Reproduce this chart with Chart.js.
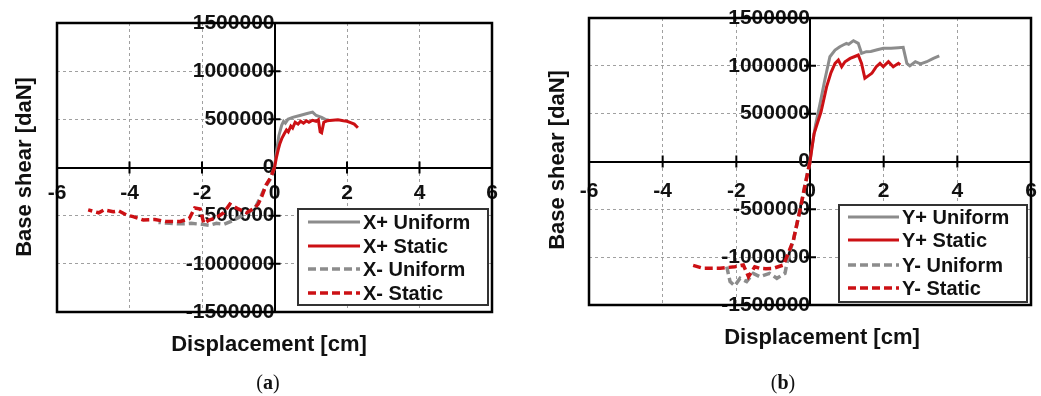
<!DOCTYPE html>
<html>
<head>
<meta charset="utf-8">
<script src="https://cdn.jsdelivr.net/npm/chart.js@4.4.1/dist/chart.umd.min.js"></script>
<style>
  html, body { margin: 0; padding: 0; background: #fff; }
  #wrap { position: relative; width: 1041px; height: 396px; }
  .pane { position: absolute; top: 0; height: 396px; }
  #paneA { left: 0; width: 520px; }
  #paneB { left: 520px; width: 521px; }
  .cap { position: absolute; top: 371px; font: 20px "Liberation Serif", "Times New Roman", serif; color: #111; transform: translateX(-50%); }
</style>
</head>
<body>
<div id="wrap">
  <div class="pane" id="paneA"><canvas id="chartA"></canvas></div>
  <div class="pane" id="paneB"><canvas id="chartB"></canvas></div>
  <div class="cap" style="left:268px">(<b>a</b>)</div>
  <div class="cap" style="left:783px">(<b>b</b>)</div>
</div>
<script>
// tick values
const dispTicks = [-6, -4, -2, 0, 2, 4, 6]
const shearTicks = [-1500000, -1000000, -500000, 0, 500000, 1000000, 1500000]

// (a) X direction
const xPlusUniformDisp = [0, 0.05, 0.12, 0.2, 0.25, 0.3, 0.37, 0.5, 0.7, 0.9, 1.05, 1.15, 1.3, 1.4, 1.5]
const xPlusUniformShear = [0, 150000, 330000, 440000, 480000, 460000, 500000, 520000, 540000, 560000, 575000, 540000, 520000, 500000, 490000]

const xPlusStaticDisp = [0, 0.05, 0.1, 0.15, 0.2, 0.27, 0.33, 0.38, 0.45, 0.5, 0.57, 0.65, 0.72, 0.8, 0.88, 0.95, 1.05, 1.15, 1.21, 1.26, 1.3, 1.36, 1.45, 1.6, 1.75, 1.9, 2.0, 2.1, 2.2, 2.3]
const xPlusStaticShear = [0, 100000, 180000, 250000, 300000, 350000, 390000, 370000, 430000, 410000, 470000, 450000, 480000, 460000, 485000, 470000, 490000, 480000, 495000, 370000, 360000, 470000, 485000, 490000, 495000, 485000, 480000, 465000, 450000, 413000]

const xMinusUniformDisp = [0, -0.1, -0.25, -0.4, -0.55, -0.8, -1.0, -1.2, -1.4, -1.6, -1.8, -2.0, -2.3, -2.6, -2.9, -3.2]
const xMinusUniformShear = [0, -110000, -200000, -320000, -430000, -480000, -520000, -560000, -590000, -580000, -600000, -590000, -580000, -585000, -580000, -570000]

const xMinusStaticDisp = [0, -0.1, -0.23, -0.34, -0.45, -0.55, -0.77, -1.0, -1.23, -1.4, -1.6, -1.8, -1.95, -2.05, -2.2, -2.35, -2.6, -3.0, -3.3, -3.62, -3.9, -4.08, -4.3, -4.45, -4.7, -4.85, -5.14]
const xMinusStaticShear = [0, -100000, -180000, -290000, -380000, -420000, -470000, -430000, -380000, -470000, -520000, -545000, -580000, -430000, -420000, -530000, -560000, -560000, -540000, -545000, -510000, -493000, -450000, -460000, -440000, -470000, -440000]

// (b) Y direction
const yPlusUniformDisp = [0, 0.05, 0.15, 0.27, 0.4, 0.54, 0.68, 0.81, 0.9, 0.99, 1.05, 1.18, 1.31, 1.4, 1.53, 1.65, 1.8, 1.99, 2.2, 2.4, 2.53, 2.63, 2.71, 2.86, 3.0, 3.17, 3.35, 3.51]
const yPlusUniformShear = [0, 150000, 380000, 600000, 850000, 1095000, 1165000, 1200000, 1218000, 1235000, 1225000, 1263000, 1235000, 1131000, 1148000, 1150000, 1165000, 1183000, 1185000, 1190000, 1193000, 1026000, 1000000, 1043000, 1020000, 1043000, 1078000, 1103000]

const yPlusStaticDisp = [0, 0.05, 0.11, 0.2, 0.3, 0.45, 0.57, 0.68, 0.77, 0.86, 0.95, 1.09, 1.2, 1.31, 1.4, 1.49, 1.6, 1.68, 1.8, 1.9, 1.99, 2.13, 2.26, 2.4, 2.45]
const yPlusStaticShear = [0, 130000, 290000, 400000, 520000, 780000, 930000, 1026000, 1061000, 991000, 1043000, 1078000, 1095000, 1113000, 1026000, 870000, 900000, 922000, 991000, 1026000, 991000, 1043000, 991000, 1026000, 1010000]

const yMinusUniformDisp = [0, -0.14, -0.27, -0.45, -0.59, -0.68, -0.9, -1.1, -1.36, -1.54, -1.72, -1.9, -2.04, -2.17, -2.26]
const yMinusUniformShear = [0, -250000, -500000, -820000, -995000, -1169000, -1221000, -1169000, -1204000, -1169000, -1256000, -1221000, -1300000, -1256000, -1100000]

const yMinusStaticDisp = [0, -0.14, -0.27, -0.45, -0.59, -0.72, -0.99, -1.2, -1.36, -1.5, -1.67, -1.81, -2.04, -2.44, -2.9, -3.21]
const yMinusStaticShear = [0, -263000, -507000, -820000, -960000, -1082000, -1116000, -1120000, -1116000, -1100000, -1204000, -1082000, -1100000, -1116000, -1116000, -1082000]

const RED = '#cc1014'
const GRAY = '#8c8c8c'
const FONT = '"Liberation Sans", Arial, sans-serif'

const pts = (xs, ys) => xs.map((v, i) => ({ x: v, y: ys[i] }))

function series(label, xs, ys, color, dashed) {
  return {
    label: label,
    data: pts(xs, ys),
    borderColor: color,
    borderWidth: dashed ? 3.5 : 3,
    borderDash: dashed ? [8, 4] : [],
    showLine: true,
    pointRadius: 0,
    tension: 0,
    order: color === RED ? 1 : 2
  }
}

// frame, tick crosses, axis titles and legend box
const decor = {
  id: 'decor',
  beforeDatasetsDraw(chart, args, o) {
    const { ctx, chartArea: a, scales: { x, y } } = chart
    const x0 = x.getPixelForValue(0)
    const y0 = y.getPixelForValue(0)
    ctx.save()
    ctx.strokeStyle = '#000'
    ctx.lineWidth = 2
    ctx.beginPath()
    x.ticks.forEach(t => {
      if (t.value === 0) return
      const px = x.getPixelForValue(t.value)
      ctx.moveTo(px, y0 - 6)
      ctx.lineTo(px, y0 + 6)
    })
    y.ticks.forEach(t => {
      if (t.value === 0) return
      const py = y.getPixelForValue(t.value)
      ctx.moveTo(x0 - 6, py)
      ctx.lineTo(x0 + 6, py)
    })
    ctx.stroke()
    ctx.lineWidth = 2.5
    ctx.strokeRect(a.left, a.top, a.right - a.left, a.bottom - a.top)
    ctx.restore()
  },
  afterDraw(chart, args, o) {
    const ctx = chart.ctx
    ctx.save()
    ctx.fillStyle = '#111'
    ctx.font = 'bold 22px ' + FONT
    ctx.textAlign = 'center'
    ctx.textBaseline = 'middle'
    ctx.fillText(o.xTitle, o.xTitleX, o.xTitleY)
    ctx.translate(o.yTitleX, o.yTitleY)
    ctx.rotate(-Math.PI / 2)
    ctx.fillText(o.yTitle, 0, 0)
    ctx.restore()

    const L = o.legend
    ctx.save()
    ctx.fillStyle = '#fff'
    ctx.fillRect(L.x, L.y, L.w, L.h)
    ctx.strokeStyle = '#333'
    ctx.lineWidth = 2
    ctx.strokeRect(L.x, L.y, L.w, L.h)
    ctx.font = 'bold 20px ' + FONT
    ctx.textAlign = 'left'
    ctx.textBaseline = 'middle'
    chart.data.datasets.forEach((ds, i) => {
      const ry = L.y + L.rows[i]
      ctx.strokeStyle = ds.borderColor
      ctx.lineWidth = ds.borderWidth
      ctx.setLineDash(ds.borderDash)
      ctx.beginPath()
      ctx.moveTo(L.x + L.line0, ry)
      ctx.lineTo(L.x + L.line1, ry)
      ctx.stroke()
      ctx.setLineDash([])
      ctx.fillStyle = '#111'
      ctx.fillText(ds.label, L.x + L.text, ry + 1)
    })
    ctx.restore()
  }
}

function zeroPad(scale) {
  scale.paddingLeft = 0
  scale.paddingRight = 0
  scale.paddingTop = 0
  scale.paddingBottom = 0
}

function makeChart(id, datasets, lay) {
  new Chart(document.getElementById(id), {
    type: 'scatter',
    data: { datasets: datasets },
    plugins: [decor],
    options: {
      responsive: true,
      maintainAspectRatio: false,
      animation: false,
      layout: { padding: lay.padding },
      plugins: {
        legend: { display: false },
        tooltip: { enabled: false },
        decor: lay.decor
      },
      scales: {
        x: {
          type: 'linear',
          min: -6,
          max: 6,
          position: { y: 0 },
          afterBuildTicks: s => { s.ticks = dispTicks.map(v => ({ value: v })) },
          afterFit: zeroPad,
          ticks: { padding: lay.xPad, color: '#111', font: { family: FONT, size: 21, weight: 'bold' }, callback: v => String(v) },
          grid: { color: '#a0a0a0', lineWidth: 1, drawTicks: false },
          border: { display: true, color: '#000', width: 2, dash: [3, 3] }
        },
        y: {
          type: 'linear',
          min: -1500000,
          max: 1500000,
          position: { x: 0 },
          afterBuildTicks: s => { s.ticks = shearTicks.map(v => ({ value: v })) },
          afterFit: zeroPad,
          ticks: { padding: lay.yPad, color: '#111', font: { family: FONT, size: 21, weight: 'bold' }, callback: v => String(v) },
          grid: { color: '#a0a0a0', lineWidth: 1, drawTicks: false },
          border: { display: true, color: '#000', width: 2, dash: [3, 3] }
        }
      }
    }
  })
}

makeChart('chartA', [
  series('X+ Uniform', xPlusUniformDisp, xPlusUniformShear, GRAY, false),
  series('X+ Static', xPlusStaticDisp, xPlusStaticShear, RED, false),
  series('X- Uniform', xMinusUniformDisp, xMinusUniformShear, GRAY, true),
  series('X- Static', xMinusStaticDisp, xMinusStaticShear, RED, true)
], {
  padding: { left: 57, right: 28, top: 23, bottom: 84 },
  xPad: 13,
  yPad: 20,
  decor: {
    xTitle: 'Displacement [cm]', xTitleX: 269, xTitleY: 345,
    yTitle: 'Base shear [daN]', yTitleX: 25, yTitleY: 167,
    legend: { x: 298, y: 209, w: 190, h: 96, rows: [13, 37, 60, 84], line0: 10, line1: 62, text: 65 }
  }
})

makeChart('chartB', [
  series('Y+ Uniform', yPlusUniformDisp, yPlusUniformShear, GRAY, false),
  series('Y+ Static', yPlusStaticDisp, yPlusStaticShear, RED, false),
  series('Y- Uniform', yMinusUniformDisp, yMinusUniformShear, GRAY, true),
  series('Y- Static', yMinusStaticDisp, yMinusStaticShear, RED, true)
], {
  padding: { left: 69, right: 10, top: 18, bottom: 91 },
  xPad: 17,
  yPad: 22,
  decor: {
    xTitle: 'Displacement [cm]', xTitleX: 302, xTitleY: 338,
    yTitle: 'Base shear [daN]', yTitleX: 38, yTitleY: 160,
    legend: { x: 319, y: 205, w: 188, h: 97, rows: [12, 35, 60, 83], line0: 9, line1: 60, text: 63 }
  }
})
</script>
</body>
</html>
